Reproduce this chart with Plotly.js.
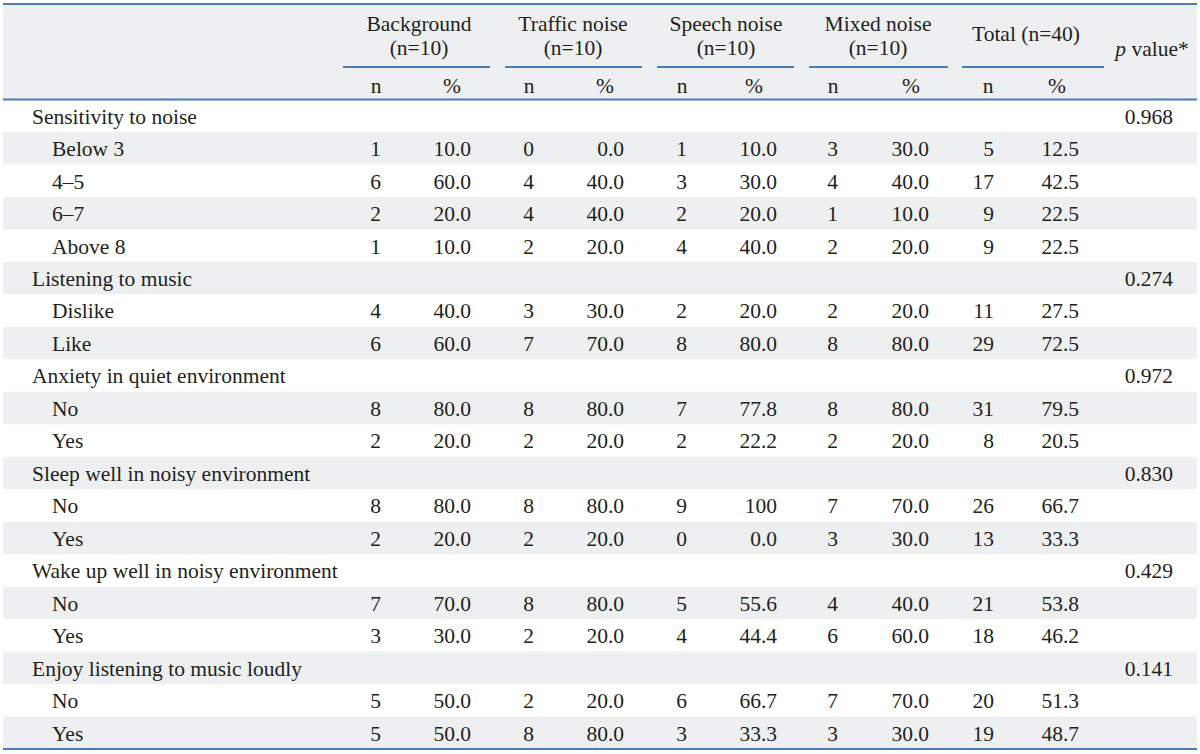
<!DOCTYPE html>
<html>
<head>
<meta charset="utf-8">
<script src="https://cdn.plot.ly/plotly-3.0.1.min.js"></script>
<style>
  html, body { margin: 0; padding: 0; background: #ffffff; }
  #table_plot { width: 1200px; height: 754px; }
</style>
</head>
<body>
<div id="table_plot"></div>
<script>
// Table data
const rowLabels = ["Sensitivity to noise", "Below 3", "4\u20135", "6\u20137", "Above 8",
    "Listening to music", "Dislike", "Like",
    "Anxiety in quiet environment", "No", "Yes",
    "Sleep well in noisy environment", "No", "Yes",
    "Wake up well in noisy environment", "No", "Yes",
    "Enjoy listening to music loudly", "No", "Yes"];

const bgN        = [null, 1, 6, 2, 1, null, 4, 6, null, 8, 2, null, 8, 2, null, 7, 3, null, 5, 5];
const bgPct      = [null, 10.0, 60.0, 20.0, 10.0, null, 40.0, 60.0, null, 80.0, 20.0, null, 80.0, 20.0, null, 70.0, 30.0, null, 50.0, 50.0];
const trafficN   = [null, 0, 4, 4, 2, null, 3, 7, null, 8, 2, null, 8, 2, null, 8, 2, null, 2, 8];
const trafficPct = [null, 0.0, 40.0, 40.0, 20.0, null, 30.0, 70.0, null, 80.0, 20.0, null, 80.0, 20.0, null, 80.0, 20.0, null, 20.0, 80.0];
const speechN    = [null, 1, 3, 2, 4, null, 2, 8, null, 7, 2, null, 9, 0, null, 5, 4, null, 6, 3];
const speechPct  = [null, 10.0, 30.0, 20.0, 40.0, null, 20.0, 80.0, null, 77.8, 22.2, null, 100, 0.0, null, 55.6, 44.4, null, 66.7, 33.3];
const mixedN     = [null, 3, 4, 1, 2, null, 2, 8, null, 8, 2, null, 7, 3, null, 4, 6, null, 7, 3];
const mixedPct   = [null, 30.0, 40.0, 10.0, 20.0, null, 20.0, 80.0, null, 80.0, 20.0, null, 70.0, 30.0, null, 40.0, 60.0, null, 70.0, 30.0];
const totalN     = [null, 5, 17, 9, 9, null, 11, 29, null, 31, 8, null, 26, 13, null, 21, 18, null, 20, 19];
const totalPct   = [null, 12.5, 42.5, 22.5, 22.5, null, 27.5, 72.5, null, 79.5, 20.5, null, 66.7, 33.3, null, 53.8, 46.2, null, 51.3, 48.7];
const pValues    = [0.968, null, null, null, null, 0.274, null, null, 0.972, null, null, 0.830, null, null, 0.429, null, null, 0.141, null, null];

const groupTitles = ["Background", "Traffic noise", "Speech noise", "Mixed noise"];
const groupSizes  = ["(n=10)", "(n=10)", "(n=10)", "(n=10)"];
const totalTitle  = "Total (n=40)";
const pTitle      = "<i>p</i> value*";

// Layout constants (pixels, axes are set to match the page)
const W = 1200, H = 754;
const tableLeft = 3, tableRight = 1197;
const headTop = 4, headBottom = 99.5, tableBottom = 749;
const rowH = (tableBottom - headBottom) / rowLabels.length;
const textDy = 2.5;
const labelX = 32, subLabelX = 52;
const groupCenters = [419, 573, 726, 878, 1026];
const groupLines = [[343, 490], [505, 642], [657, 794], [809, 948], [962, 1104]];
const nHeadX   = [376, 529, 682, 833, 988];
const pctHeadX = [452, 605, 754, 911, 1057];
const nValX    = [381, 534, 687, 838, 994];
const pctValX  = [471, 624, 777, 929, 1079];
const pValX = 1173, pHeadX = 1152;

const fontFam = "Liberation Serif, Times New Roman, serif";
const txtColor = "#231f20";
const fsize = 21.5;
const stripe = "#eeeff0";
const rule = "#4a7cb8";

function rowY(i){
    return headBottom + (i + 0.5) * rowH + textDy;
}

function fmtPct(v){
    if (v === null) return "";
    return v === 100 ? "100" : v.toFixed(1);
}

function fmtN(v){
    return v === null ? "" : String(v);
}

function textTrace(xs, ys, texts, pos){
    return {
        x: xs, y: ys, text: texts,
        mode: 'text', type: 'scatter',
        textposition: pos,
        textfont: {family: fontFam, size: fsize, color: txtColor},
        hoverinfo: 'skip', showlegend: false, cliponaxis: false
    };
}

let data = [];

// row labels
let lx = [], ly = [], lt = [];
rowLabels.forEach(function(lab, i){
    let isGroup = bgN[i] === null;
    lx.push(isGroup ? labelX : subLabelX);
    ly.push(rowY(i));
    lt.push(lab);
});
data.push(textTrace(lx, ly, lt, 'middle right'));

// value columns
const nCols = [bgN, trafficN, speechN, mixedN, totalN];
const pctCols = [bgPct, trafficPct, speechPct, mixedPct, totalPct];
let rowYs = rowLabels.map(function(_, i){ return rowY(i); });
for (let c = 0; c < nCols.length; c++){
    data.push(textTrace(rowYs.map(function(){ return nValX[c]; }), rowYs, nCols[c].map(fmtN), 'middle left'));
    data.push(textTrace(rowYs.map(function(){ return pctValX[c]; }), rowYs, pctCols[c].map(fmtPct), 'middle left'));
}
data.push(textTrace(rowYs.map(function(){ return pValX; }), rowYs,
    pValues.map(function(v){ return v === null ? "" : v.toFixed(3); }), 'middle left'));

// header texts
let hx = [], hy = [], ht = [];
groupTitles.forEach(function(t, g){
    hx.push(groupCenters[g]); hy.push(23 + textDy); ht.push(t);
    hx.push(groupCenters[g]); hy.push(47 + textDy); ht.push(groupSizes[g]);
});
hx.push(groupCenters[4]); hy.push(33 + textDy); ht.push(totalTitle);
hx.push(pHeadX); hy.push(48 + textDy); ht.push(pTitle);
for (let c = 0; c < 5; c++){
    hx.push(nHeadX[c]); hy.push(85 + textDy); ht.push("n");
    hx.push(pctHeadX[c]); hy.push(85 + textDy); ht.push("%");
}
data.push(textTrace(hx, hy, ht, 'middle center'));

// backgrounds and rules
let shapes = [];
shapes.push({type: 'rect', xref: 'x', yref: 'y', x0: tableLeft, x1: tableRight, y0: headTop, y1: headBottom,
    fillcolor: stripe, line: {width: 0}, layer: 'below'});
for (let i = 1; i < rowLabels.length; i += 2){
    shapes.push({type: 'rect', xref: 'x', yref: 'y', x0: tableLeft, x1: tableRight,
        y0: headBottom + i * rowH, y1: headBottom + (i + 1) * rowH,
        fillcolor: stripe, line: {width: 0}, layer: 'below'});
}
[headTop, headBottom, tableBottom].forEach(function(y){
    shapes.push({type: 'line', xref: 'x', yref: 'y', x0: tableLeft, x1: tableRight, y0: y, y1: y,
        line: {color: rule, width: 2}});
});
groupLines.forEach(function(seg){
    shapes.push({type: 'line', xref: 'x', yref: 'y', x0: seg[0], x1: seg[1], y0: 67, y1: 67,
        line: {color: rule, width: 2}});
});

const layout = {
    width: W, height: H,
    margin: {l: 0, r: 0, t: 0, b: 0},
    paper_bgcolor: '#ffffff', plot_bgcolor: '#ffffff',
    xaxis: {range: [0, W], visible: false, fixedrange: true},
    yaxis: {range: [H, 0], visible: false, fixedrange: true},
    shapes: shapes,
    showlegend: false
};

Plotly.newPlot('table_plot', data, layout, {staticPlot: true});
</script>
</body>
</html>
